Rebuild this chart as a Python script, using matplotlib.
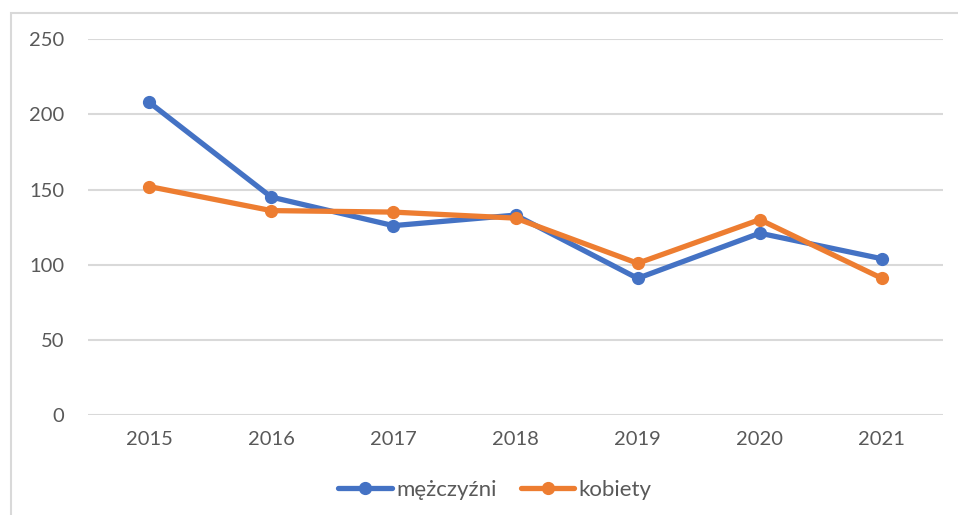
import matplotlib
matplotlib.use("Agg")
import matplotlib.pyplot as plt
from matplotlib.patches import Rectangle

years = ["2015", "2016", "2017", "2018", "2019", "2020", "2021"]
men = [208, 145, 126, 133, 91, 121, 104]
women = [152, 136, 135, 131, 101, 130, 91]
y_ticks = [0, 50, 100, 150, 200, 250]
series_labels = ["mężczyźni", "kobiety"]

plt.rcParams['font.family'] = ['Lato', 'DejaVu Sans']
W, H = 958, 515
fig = plt.figure(figsize=(W / 100, H / 100), dpi=100)
ax = fig.add_axes([88 / W, (H - 415.3) / H, (943 - 88) / W, (415.3 - 39) / H])

x = list(range(len(years)))
ax.plot(x, men, color="#4472C4", lw=3.8, marker="o", ms=8.5, label=series_labels[0],
        solid_capstyle="round", zorder=3)
ax.plot(x, women, color="#ED7D31", lw=3.8, marker="o", ms=8.5, label=series_labels[1],
        solid_capstyle="round", zorder=4)

ax.set_xlim(-0.5, len(years) - 0.5)
ax.set_ylim(0, 250)
ax.set_yticks(y_ticks)
ax.set_xticks(x)
ax.set_xticklabels(years)
ax.grid(axis="y", color="#d9d9d9", lw=1.5, zorder=0)
ax.set_axisbelow(True)
for s in ax.spines.values():
    s.set_visible(False)
ax.tick_params(axis="both", length=0, labelsize=14.5, colors="#595959")
ax.tick_params(axis="y", pad=17)
ax.tick_params(axis="x", pad=11)

fig.legend(loc="center", bbox_to_anchor=(0.5 + 16 / W, 1 - 490 / H), ncol=2, frameon=False,
           fontsize=16, labelcolor="#595959", handlelength=2.4, handletextpad=0.2,
           columnspacing=1.1)

fig.patches.append(Rectangle((11 / W, -0.1), 2, 1 - 13 / H + 0.1, transform=fig.transFigure,
                             fill=False, edgecolor="#d9d9d9", lw=1.5))

fig.savefig("out.png", dpi=100)
